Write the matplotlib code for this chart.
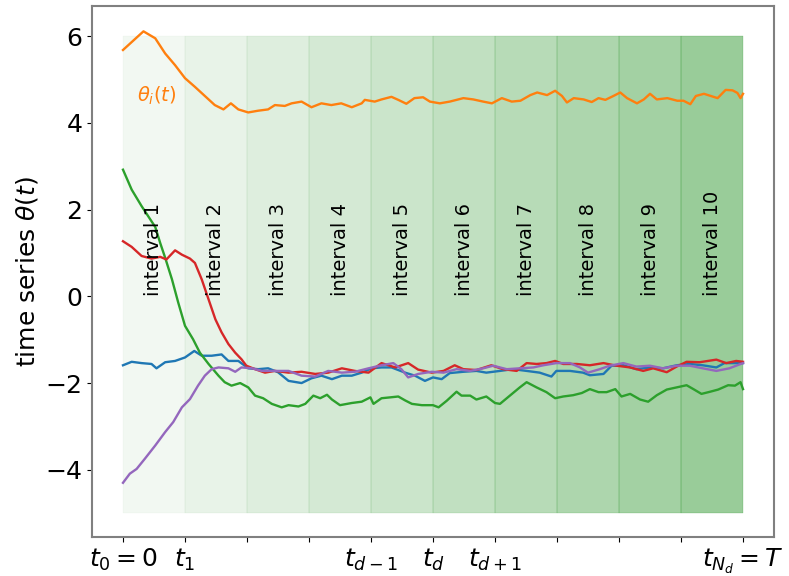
import numpy as np
import matplotlib
matplotlib.use("Agg")
import matplotlib.pyplot as plt

# ---- data ----
orange_x = [0, 0.33, 0.52, 0.68, 0.84, 1.0, 1.16, 1.32, 1.48, 1.62, 1.74, 1.86, 2.02, 2.18, 2.34, 2.45,
            2.61, 2.72, 2.88, 3.04, 3.2, 3.36, 3.52, 3.69, 3.85, 3.9, 4.06, 4.17, 4.33, 4.44, 4.57, 4.7,
            4.84, 4.95, 5.11, 5.27, 5.49, 5.65, 5.81, 5.95, 6.11, 6.27, 6.41, 6.57, 6.68, 6.84, 6.97,
            7.08, 7.16, 7.27, 7.43, 7.56, 7.67, 7.78, 7.91, 8.02, 8.13, 8.29, 8.40, 8.5, 8.61, 8.78,
            8.94, 9.04, 9.15, 9.24, 9.37, 9.48, 9.59, 9.72, 9.83, 9.91, 9.96, 10.0]
orange_y = [5.68, 6.11, 5.95, 5.60, 5.33, 5.03, 4.83, 4.62, 4.41, 4.31, 4.45, 4.31, 4.24, 4.28, 4.31, 4.41,
            4.39, 4.45, 4.49, 4.36, 4.45, 4.41, 4.45, 4.36, 4.45, 4.53, 4.49, 4.54, 4.60, 4.53, 4.44, 4.57,
            4.59, 4.49, 4.45, 4.49, 4.57, 4.54, 4.49, 4.45, 4.57, 4.49, 4.51, 4.64, 4.70, 4.64, 4.74,
            4.62, 4.47, 4.57, 4.54, 4.48, 4.57, 4.53, 4.62, 4.70, 4.57, 4.45, 4.54, 4.67, 4.54, 4.57,
            4.51, 4.51, 4.43, 4.62, 4.67, 4.62, 4.57, 4.76, 4.75, 4.69, 4.57, 4.67]

green_x = [0, 0.14, 0.30, 0.46, 0.52, 0.60, 0.68, 0.79, 0.89, 1.0, 1.13, 1.24, 1.38, 1.54, 1.64, 1.75,
           1.89, 2.02, 2.13, 2.26, 2.40, 2.56, 2.67, 2.83, 2.94, 3.07, 3.18, 3.29, 3.37, 3.5, 3.69, 3.85,
           3.99, 4.04, 4.17, 4.31, 4.44, 4.55, 4.66, 4.82, 5.0, 5.09, 5.22, 5.38, 5.46, 5.60, 5.7, 5.86,
           6.0, 6.08, 6.24, 6.40, 6.51, 6.67, 6.83, 6.97, 7.10, 7.26, 7.40, 7.53, 7.67, 7.80, 7.94,
           8.04, 8.18, 8.34, 8.47, 8.61, 8.77, 8.93, 9.09, 9.2, 9.33, 9.47, 9.6, 9.76, 9.87, 9.96, 10.0]
green_y = [2.92, 2.46, 2.08, 1.73, 1.6, 1.23, 0.89, 0.39, -0.14, -0.68, -0.99, -1.30, -1.56, -1.83, -1.98,
           -2.06, -2.0, -2.1, -2.29, -2.35, -2.48, -2.56, -2.51, -2.54, -2.48, -2.29, -2.35, -2.27, -2.38,
           -2.51, -2.46, -2.43, -2.33, -2.48, -2.35, -2.33, -2.31, -2.40, -2.48, -2.51, -2.51, -2.56,
           -2.41, -2.20, -2.29, -2.29, -2.38, -2.31, -2.46, -2.48, -2.29, -2.1, -1.98, -2.1, -2.21,
           -2.35, -2.31, -2.28, -2.23, -2.14, -2.21, -2.21, -2.14, -2.31, -2.25, -2.38, -2.43, -2.28,
           -2.15, -2.1, -2.05, -2.14, -2.25, -2.2, -2.15, -2.05, -2.06, -1.98, -2.14]

red_x = [0, 0.14, 0.30, 0.46, 0.60, 0.70, 0.84, 0.95, 1.08, 1.16, 1.27, 1.38, 1.49, 1.59, 1.70, 1.81,
         1.91, 1.99, 2.13, 2.29, 2.45, 2.67, 2.88, 3.10, 3.31, 3.53, 3.74, 3.96, 4.17, 4.39, 4.60, 4.76,
         4.98, 5.17, 5.35, 5.49, 5.70, 5.94, 6.13, 6.35, 6.51, 6.67, 6.83, 6.97, 7.10, 7.32, 7.53,
         7.75, 7.96, 8.18, 8.39, 8.55, 8.77, 8.93, 9.09, 9.30, 9.57, 9.73, 9.89, 10.0]
red_y = [1.27, 1.14, 0.93, 0.87, 0.91, 0.85, 1.06, 0.96, 0.87, 0.77, 0.39, -0.07, -0.53, -0.83, -1.10,
         -1.30, -1.45, -1.60, -1.68, -1.76, -1.72, -1.76, -1.74, -1.79, -1.76, -1.66, -1.72, -1.76,
         -1.54, -1.64, -1.54, -1.69, -1.76, -1.72, -1.59, -1.68, -1.70, -1.59, -1.68, -1.72, -1.54,
         -1.56, -1.54, -1.49, -1.56, -1.56, -1.59, -1.54, -1.60, -1.64, -1.72, -1.66, -1.75, -1.62,
         -1.51, -1.52, -1.46, -1.54, -1.49, -1.51]

blue_x = [0, 0.14, 0.30, 0.46, 0.54, 0.68, 0.84, 1.0, 1.15, 1.27, 1.43, 1.59, 1.70, 1.86, 2.02, 2.18,
          2.34, 2.5, 2.67, 2.88, 3.04, 3.2, 3.37, 3.53, 3.69, 3.85, 4.01, 4.17, 4.33, 4.55, 4.71, 4.87,
          5.0, 5.14, 5.27, 5.49, 5.70, 5.86, 6.08, 6.29, 6.51, 6.72, 6.91, 6.99, 7.21, 7.42, 7.53,
          7.75, 7.88, 8.07, 8.28, 8.50, 8.71, 8.93, 9.14, 9.35, 9.57, 9.70, 9.83, 10.0]
blue_y = [-1.59, -1.51, -1.54, -1.56, -1.66, -1.52, -1.49, -1.41, -1.26, -1.37, -1.37, -1.34, -1.49,
          -1.49, -1.66, -1.68, -1.66, -1.75, -1.95, -2.0, -1.89, -1.83, -1.91, -1.83, -1.83, -1.76,
          -1.66, -1.64, -1.64, -1.76, -1.83, -1.95, -1.87, -1.91, -1.77, -1.74, -1.72, -1.76, -1.72,
          -1.68, -1.72, -1.76, -1.85, -1.72, -1.72, -1.76, -1.82, -1.79, -1.60, -1.59, -1.68, -1.64,
          -1.66, -1.59, -1.56, -1.59, -1.64, -1.54, -1.54, -1.54]

purple_x = [0, 0.11, 0.22, 0.35, 0.52, 0.68, 0.81, 0.95, 1.08, 1.21, 1.32, 1.43, 1.54, 1.70, 1.81, 1.91,
            2.08, 2.24, 2.45, 2.67, 2.88, 3.10, 3.31, 3.53, 3.74, 3.96, 4.17, 4.36, 4.49, 4.60, 4.76,
            4.98, 5.17, 5.38, 5.60, 5.81, 5.97, 6.19, 6.40, 6.62, 6.78, 6.99, 7.21, 7.37, 7.50, 7.69,
            7.85, 8.07, 8.28, 8.50, 8.71, 8.93, 9.14, 9.35, 9.57, 9.78, 10.0]
purple_y = [-4.30, -4.09, -3.98, -3.75, -3.44, -3.13, -2.9, -2.56, -2.37, -2.06, -1.83, -1.68, -1.64,
            -1.66, -1.74, -1.64, -1.66, -1.72, -1.72, -1.72, -1.83, -1.85, -1.72, -1.76, -1.74, -1.66,
            -1.59, -1.54, -1.68, -1.87, -1.79, -1.74, -1.76, -1.68, -1.72, -1.66, -1.60, -1.68, -1.66,
            -1.64, -1.59, -1.54, -1.54, -1.64, -1.76, -1.68, -1.60, -1.54, -1.62, -1.60, -1.66, -1.60,
            -1.60, -1.66, -1.72, -1.66, -1.54]

n_intervals = 10
interval_labels = [f"interval {i + 1}" for i in range(n_intervals)]
tick_positions = list(range(n_intervals + 1))
tick_labels = [r"$t_0 = 0$", r"$t_1$", "", "", r"$t_{d-1}$", r"$t_d$", r"$t_{d+1}$", "", "", "",
               r"$t_{N_d} = T$"]
y_ticks = [-4, -2, 0, 2, 4, 6]

# ---- figure ----
fig = plt.figure(figsize=(7.89, 5.76), dpi=100)
ax = fig.add_axes([0.1166, 0.0677, 0.8644, 0.9223])

alphas = np.linspace(0.05, 0.4, n_intervals)
for i in range(n_intervals):
    ax.fill_between([i, i + 1], -5, 6, color="green", alpha=alphas[i], linewidth=0.3)
    ax.text(i + 0.5, 0, interval_labels[i], rotation=90, ha="center", va="bottom", fontsize=14)

lw = 1.7
ax.plot(blue_x, blue_y, color="C0", lw=lw)
ax.plot(orange_x, orange_y, color="C1", lw=lw)
ax.plot(green_x, green_y, color="C2", lw=lw)
ax.plot(red_x, red_y, color="C3", lw=lw)
ax.plot(purple_x, purple_y, color="C4", lw=lw)

ax.text(0.55, 4.62, r"$\theta_i(t)$", color="C1", fontsize=14, ha="center", va="center")

ax.set_xlim(-0.5, 10.5)
ax.set_ylim(-5.55, 6.7)
ax.set_xticks(tick_positions)
ax.set_xticklabels(tick_labels, fontsize=18)
ax.set_yticks(y_ticks)
ax.set_yticklabels([f"{v}" if v >= 0 else f"\u2212{abs(v)}" for v in y_ticks], fontsize=18)
ax.set_ylabel(r"time series $\theta(t)$", fontsize=18)
for s in ax.spines.values():
    s.set_color("gray")
    s.set_linewidth(1.5)

fig.savefig("out.png", dpi=100)
